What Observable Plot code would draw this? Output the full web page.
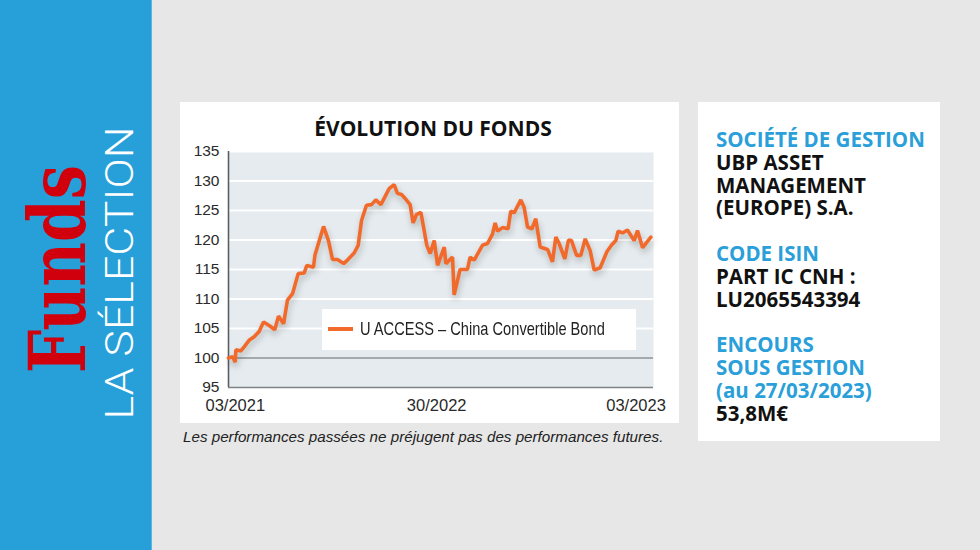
<!DOCTYPE html>
<html>
<head>
<meta charset="utf-8">
<script src="https://cdn.jsdelivr.net/npm/d3@7"></script>
<script src="https://cdn.jsdelivr.net/npm/@observablehq/plot@0.6"></script>
<style>
  html, body { margin: 0; padding: 0; }
  body { width: 980px; height: 550px; background: #e7e7e7; position: relative; overflow: hidden; font-family: "Liberation Sans", Arial, sans-serif; }
  #band { position: absolute; left: 0; top: 0; width: 151px; height: 550px; background: #279fd9; border-right: 1px solid #5bb5e2; }
  #card { position: absolute; left: 180px; top: 102px; width: 499px; height: 321px; background: #fff; }
  #title { position: absolute; left: 0; top: 0; width: 506px; height: 35px; text-align: center; font-family: "Open Sans", sans-serif; font-weight: 700; font-size: 21px; line-height: 52px; color: #111; }
  #chart { position: absolute; left: 0; top: 35px; }
  #legend { position: absolute; left: 322px; top: 309px; width: 314px; height: 41px; background: #fff; }
  #legend .sw { position: absolute; left: 6px; top: 18px; width: 25px; height: 4px; background: #f26a2b; }
  #legend .tx { position: absolute; left: 38px; top: 9px; font-family: "Liberation Sans", Arial, sans-serif; font-size: 19px; line-height: 22px; color: #222; white-space: nowrap; transform: scaleX(0.77); transform-origin: left center; }
  #caption { position: absolute; left: 183px; top: 428px; font-family: "Liberation Sans", Arial, sans-serif; font-style: italic; font-size: 15.2px; line-height: 18px; color: #222; white-space: nowrap; }
  #info { position: absolute; left: 698px; top: 102px; width: 242px; height: 339px; background: #fff; }
  #info .txt { position: absolute; left: 18px; top: 26px; font-family: "Open Sans", sans-serif; font-weight: 700; font-size: 20.5px; line-height: 22.8px; color: #111; }
  #info .blue { color: #2a9fd9; }
  #info .gap { height: 22.8px; }
</style>
</head>
<body>
<div id="band">
  <svg width="151" height="550" style="position:absolute;left:0;top:0">
    <text transform="translate(85,269) rotate(-90)" text-anchor="middle" font-family="DejaVu Serif, Liberation Serif, serif" font-weight="700" font-size="78" fill="#d1000d" textLength="208" lengthAdjust="spacingAndGlyphs">Funds</text>
    <text transform="translate(133,273) rotate(-90)" text-anchor="middle" font-family="Roboto, Liberation Sans, sans-serif" font-weight="300" font-size="39" fill="#ffffff" textLength="293" lengthAdjust="spacingAndGlyphs">LA SÉLECTION</text>
  </svg>
</div>

<div id="card">
  <div id="title">ÉVOLUTION DU FONDS</div>
  <div id="chart"></div>
</div>
<div id="legend"><div class="sw"></div><div class="tx">U ACCESS – China Convertible Bond</div></div>
<div id="caption">Les performances passées ne préjugent pas des performances futures.</div>

<div id="info">
  <div class="txt">
    <div class="blue">SOCIÉTÉ DE GESTION</div>
    <div>UBP ASSET</div>
    <div>MANAGEMENT</div>
    <div>(EUROPE) S.A.</div>
    <div class="gap"></div>
    <div class="blue">CODE ISIN</div>
    <div>PART IC CNH :</div>
    <div>LU2065543394</div>
    <div class="gap"></div>
    <div class="blue">ENCOURS</div>
    <div class="blue">SOUS GESTION</div>
    <div class="blue">(au 27/03/2023)</div>
    <div>53,8M€</div>
  </div>
</div>

<script>
// Months elapsed since 03/2021
const months = [0, 0.23, 0.38, 0.42, 0.70, 0.89, 1.17, 1.46, 1.74, 1.99, 2.31, 2.63, 2.84, 3.13, 3.35, 3.64, 3.96, 4.30, 4.45, 4.83, 4.91, 5.40, 5.68, 5.91, 6.19, 6.54, 6.76, 7.14, 7.37, 7.56, 7.84, 8.13, 8.37, 8.66, 9.13, 9.41, 9.60, 9.83, 10.08, 10.32, 10.49, 10.68, 10.93, 11.27, 11.46, 11.69, 11.88, 12.26, 12.35, 12.73, 12.82, 13.16, 13.58, 13.73, 13.96, 14.43, 14.72, 15.00, 15.15, 15.29, 15.57, 15.89, 16.04, 16.23, 16.61, 16.80, 16.99, 17.24, 17.46, 17.71, 18.13, 18.41, 18.60, 18.79, 19.11, 19.32, 19.49, 19.78, 20.02, 20.27, 20.55, 20.78, 21.12, 21.50, 21.76, 22.01, 22.14, 22.39, 22.67, 23.05, 23.24, 23.53, 24.00];
// Fund value (base 100)
const values = [100.0, 100.2, 99.3, 101.4, 101.2, 101.9, 103.0, 103.6, 104.5, 106.1, 105.5, 104.8, 107.1, 105.8, 109.8, 110.9, 114.3, 114.4, 115.7, 115.4, 117.4, 122.3, 119.9, 116.7, 116.7, 116.0, 116.6, 117.8, 119.1, 123.3, 125.9, 126.0, 126.8, 126.0, 128.7, 129.4, 127.9, 127.7, 126.9, 126.0, 122.9, 124.3, 124.7, 119.1, 117.7, 119.9, 115.7, 118.8, 116.0, 117.1, 110.7, 115.0, 115.0, 117.1, 116.6, 119.1, 119.4, 121.0, 122.9, 121.5, 122.1, 121.9, 124.9, 124.6, 126.8, 125.5, 122.2, 121.9, 123.6, 118.8, 118.4, 116.3, 120.5, 119.4, 116.8, 120.0, 119.9, 117.4, 117.4, 120.2, 118.2, 114.9, 115.3, 118.0, 119.1, 119.9, 121.5, 121.2, 121.7, 119.9, 121.6, 118.7, 120.5];
const yTicks = [95, 100, 105, 110, 115, 120, 125, 130, 135];
const xTickMonths = [0, 12, 24];
const xTickLabels = ["03/2021", "30/2022", "03/2023"];
const seriesName = "U ACCESS – China Convertible Bond";

const data = months.map((m, i) => ({m, v: values[i]}));
const xt = xTickMonths.map((m, i) => ({m, label: xTickLabels[i]}));

const chart = Plot.plot({
  width: 499,
  height: 286,
  marginLeft: 48,
  marginRight: 26,
  marginTop: 14,
  marginBottom: 36,
  x: {domain: [0, 24.15], axis: null},
  y: {domain: [95, 135], axis: null},
  style: {background: "transparent", fontFamily: "'Liberation Sans', Arial, sans-serif", fontSize: "15.5px", color: "#2a2a2a"},
  marks: [
    Plot.frame({fill: "#e5ebee", stroke: null}),
    Plot.ruleY(yTicks.filter(t => t > 100), {y: d => d, stroke: "#ffffff", strokeWidth: 2}),
    Plot.ruleY([100], {stroke: "#8e9396", strokeWidth: 1.6}),
    Plot.ruleY([95], {stroke: "#7d8285", strokeWidth: 1.6}),
    Plot.ruleX([0], {stroke: "#5a5e61", strokeWidth: 1.6}),
    Plot.axisY({ticks: yTicks, tickSize: 0, tickPadding: 9, label: null, fill: "#2a2a2a"}),
    Plot.line(data, {x: "m", y: "v", stroke: "#f26a2b", strokeWidth: 3.6, strokeLinejoin: "miter", imageFilter: "drop-shadow(1px 4px 3px rgba(0,0,0,0.22))"}),
    Plot.text(xt.slice(0, 1), {x: "m", text: "label", frameAnchor: "bottom", textAnchor: "start", dx: -23, dy: 18, lineAnchor: "middle", fontSize: 16.5, fill: "#2a2a2a"}),
    Plot.text(xt.slice(1, 2), {x: "m", text: "label", frameAnchor: "bottom", textAnchor: "middle", dx: -3, dy: 18, lineAnchor: "middle", fontSize: 16.5, fill: "#2a2a2a"}),
    Plot.text(xt.slice(2, 3), {x: "m", text: "label", frameAnchor: "bottom", textAnchor: "end", dx: 15, dy: 18, lineAnchor: "middle", fontSize: 16.5, fill: "#2a2a2a"})
  ]
});
document.getElementById("chart").appendChild(chart);
document.querySelector("#legend .tx").textContent = seriesName;
</script>
</body>
</html>
